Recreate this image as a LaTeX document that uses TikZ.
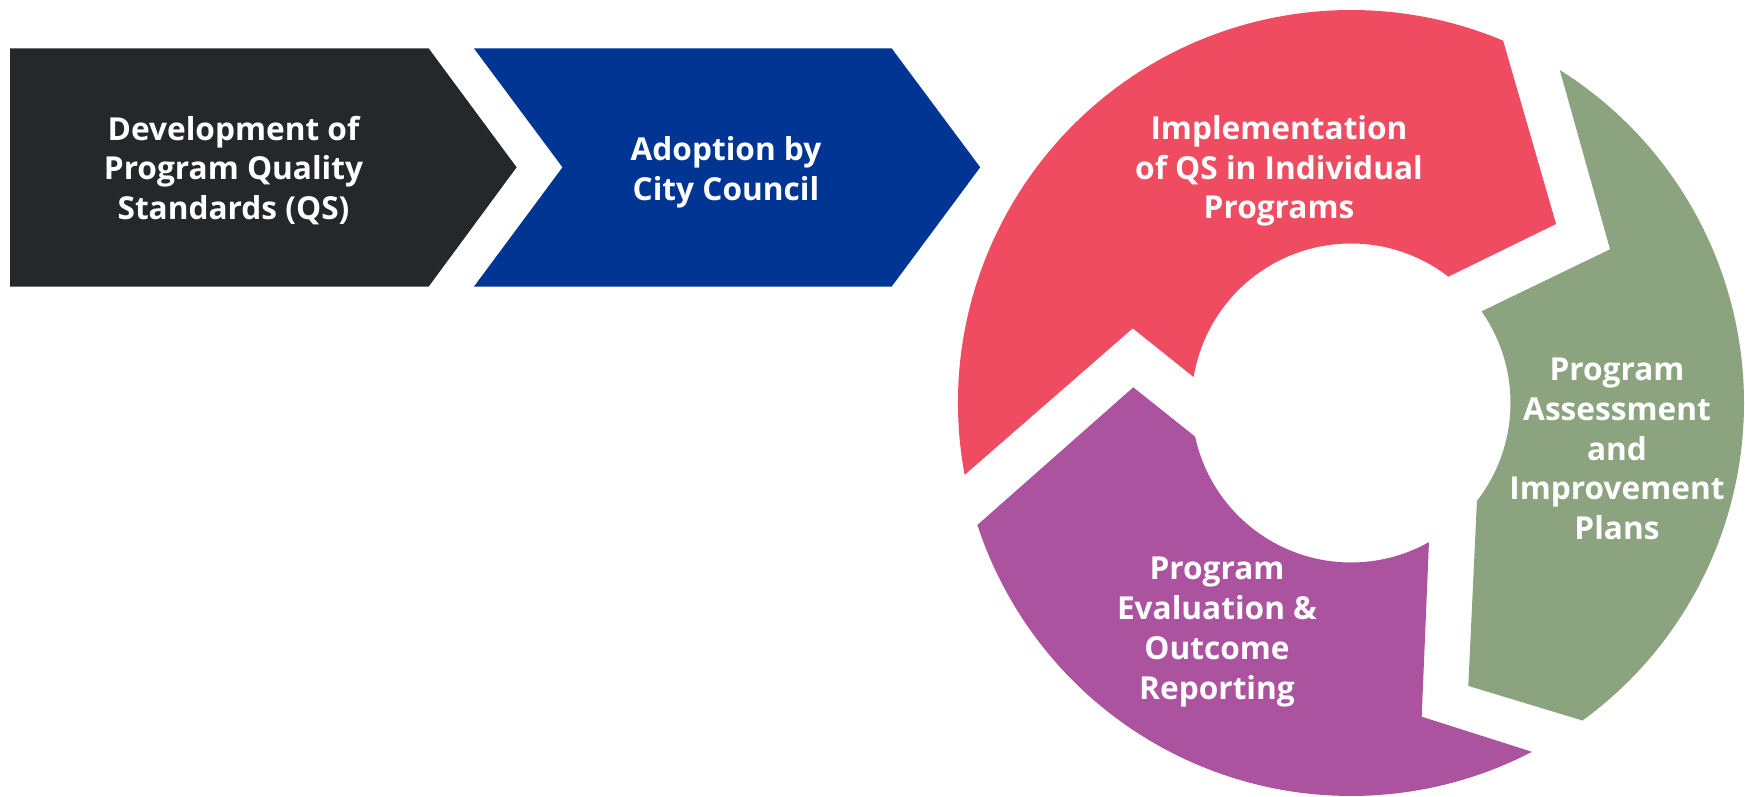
\documentclass[tikz,border=0pt]{standalone}
\usepackage{fontspec}
\setmainfont{Open Sans}
\definecolor{qsdark}{HTML}{25282A}
\definecolor{qsblue}{HTML}{003594}
\definecolor{qsred}{HTML}{EF4B61}
\definecolor{qsgreen}{HTML}{8BA37E}
\definecolor{qspurple}{HTML}{AB539E}
\begin{document}
\begin{tikzpicture}[x=0.02cm,y=0.02cm]
    \useasboundingbox (0,0) rectangle (1745,797);

    % the two chevrons
    \fill[qsdark] (10,748.7) -- (428.6,748.7) -- (516.6,629.7) -- (428.6,510.3) -- (10,510.3) -- cycle;
    \fill[qsblue] (473.9,748.7) -- (891.6,748.7) -- (980.2,629.7) -- (891.6,510.3) -- (473.9,510.3) -- (562.5,629.7) -- cycle;

    % the cycle of three arrows
    \begin{scope}[shift={(1351,394)}]
        \fill[qsred] (190.54:393) arc[start angle=190.54, end angle=67.23, radius=393]
            -- (41.12:272.2) -- (52.39:159.5)
            arc[start angle=52.39, end angle=170.64, radius=159.5]
            -- (161.11:230.7) -- cycle;
        \fill[qsgreen] (57.91:393) arc[start angle=57.91, end angle=-53.90, radius=393]
            -- (-67.48:306.3) -- (-37.85:159.5)
            arc[start angle=-37.85, end angle=35.08, radius=159.5]
            -- (30.68:301.2) -- cycle;
        \fill[qspurple] (-62.58:393) arc[start angle=-62.58, end angle=-161.92, radius=393]
            -- (175.88:218.3) -- (-167.81:159.5)
            arc[start angle=-167.81, end angle=-60.74, radius=159.5]
            -- (-77.30:321.6) -- cycle;
    \end{scope}

    \begin{scope}[every node/.style={text=white,align=center,inner sep=0pt,font=\fontsize{18}{22.6}\selectfont\bfseries}]
        \node (develop) at (233.5,626.5) {Development of\\Program Quality\\Standards (QS)};
        \node (adopt) at (726,625) {Adoption by\\City Council};
        \node (implement) at (1279,626) {Implementation\\of QS in Individual\\Programs};
        \node (assess) at (1617,348) {Program\\Assessment\\and\\Improvement\\Plans};
        \node (evaluate) at (1217,165) {Program\\Evaluation \&\\Outcome\\Reporting};
    \end{scope}
\end{tikzpicture}
\end{document}
